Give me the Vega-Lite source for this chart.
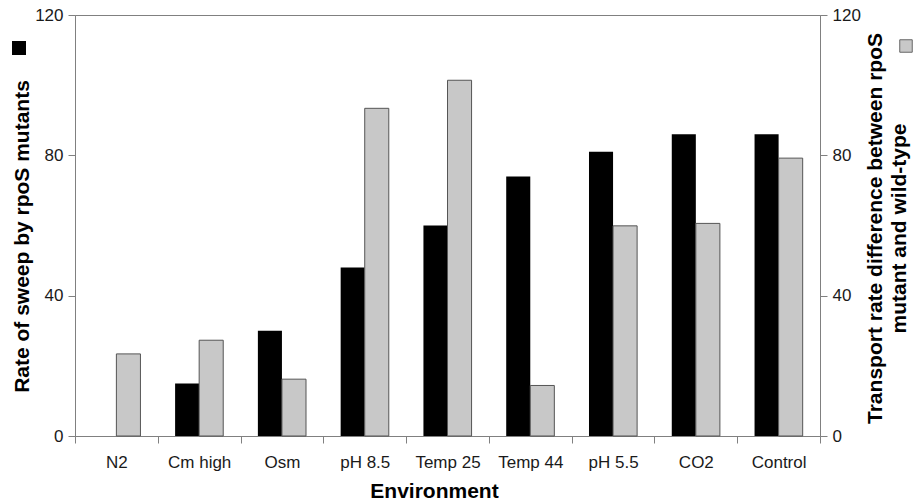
{
  "$schema": "https://vega.github.io/schema/vega-lite/v6.json",
  "width": 745,
  "height": 421,
  "autosize": {"type": "none"},
  "padding": {"left": 75, "top": 15, "right": 93, "bottom": 65},
  "background": "white",
  "config": {
    "view": {"stroke": "#808080", "strokeWidth": 1},
    "font": "Liberation Sans",
    "axis": {
      "labelFont": "Liberation Sans",
      "labelFontSize": 17,
      "labelColor": "#1a1a1a",
      "titleFont": "Liberation Sans",
      "titleFontSize": 21,
      "titleFontWeight": "bold",
      "titleColor": "#000000",
      "domainColor": "#808080",
      "tickColor": "#808080",
      "grid": false,
      "tickSize": 7
    }
  },
  "data": {
    "values": [
      {"env": "N2", "series": "sweep", "value": 0},
      {"env": "Cm high", "series": "sweep", "value": 15},
      {"env": "Osm", "series": "sweep", "value": 30},
      {"env": "pH 8.5", "series": "sweep", "value": 48},
      {"env": "Temp 25", "series": "sweep", "value": 60},
      {"env": "Temp 44", "series": "sweep", "value": 74},
      {"env": "pH 5.5", "series": "sweep", "value": 81},
      {"env": "CO2", "series": "sweep", "value": 86},
      {"env": "Control", "series": "sweep", "value": 86},
      {"env": "N2", "series": "transport", "value": 23.4},
      {"env": "Cm high", "series": "transport", "value": 27.3},
      {"env": "Osm", "series": "transport", "value": 16.2},
      {"env": "pH 8.5", "series": "transport", "value": 93.4},
      {"env": "Temp 25", "series": "transport", "value": 101.4},
      {"env": "Temp 44", "series": "transport", "value": 14.4},
      {"env": "pH 5.5", "series": "transport", "value": 59.9},
      {"env": "CO2", "series": "transport", "value": 60.6},
      {"env": "Control", "series": "transport", "value": 79.2}
    ]
  },
  "encoding": {
    "x": {
      "field": "env",
      "type": "nominal",
      "sort": ["N2", "Cm high", "Osm", "pH 8.5", "Temp 25", "Temp 44", "pH 5.5", "CO2", "Control"],
      "scale": {"paddingInner": 0, "paddingOuter": 0},
      "axis": {
        "title": "Environment",
        "labelAngle": 0,
        "tickBand": "extent",
        "labelPadding": 24,
        "labelBaseline": "alphabetic",
        "titleX": 359,
        "titleY": 61,
        "titleBaseline": "alphabetic",
        "titleAlign": "center"
      }
    },
    "xOffset": {
      "field": "series",
      "type": "nominal",
      "scale": {"domain": ["sweep", "transport"], "paddingInner": 0, "paddingOuter": 0.72}
    }
  },
  "layer": [
    {
      "transform": [{"filter": "datum.series === 'sweep'"}],
      "mark": {"type": "bar"},
      "encoding": {
        "y": {
          "field": "value",
          "type": "quantitative",
          "scale": {"domain": [0, 120], "nice": false},
          "axis": {
            "orient": "left",
            "values": [0, 40, 80, 120],
            "title": "Rate of sweep by rpoS mutants",
            "titleAngle": -90,
            "titleX": -47,
            "titleY": 221,
            "titleBaseline": "alphabetic",
            "titleAlign": "center",
            "labelPadding": 5
          }
        },
        "fill": {
          "field": "series",
          "type": "nominal",
          "scale": {"domain": ["sweep"], "range": ["#000000"]},
          "legend": {
            "orient": "none",
            "legendX": -63,
            "legendY": 26,
            "title": null,
            "labelExpr": "''",
            "symbolType": "square",
            "symbolSize": 196,
            "padding": 0,
            "labelOffset": 0,
            "symbolStrokeWidth": 0,
            "symbolOpacity": 1
          }
        }
      }
    },
    {
      "transform": [{"filter": "datum.series === 'transport'"}],
      "mark": {"type": "bar", "stroke": "#555555", "strokeWidth": 1},
      "encoding": {
        "y": {
          "field": "value",
          "type": "quantitative",
          "scale": {"domain": [0, 120], "nice": false},
          "axis": {
            "orient": "right",
            "values": [0, 40, 80, 120],
            "title": ["Transport rate difference between rpoS", "mutant and wild-type"],
            "titleAngle": -90,
            "titleX": 61,
            "titleY": 213,
            "titleBaseline": "alphabetic",
            "titleAlign": "center",
            "titleLineHeight": 24,
            "labelPadding": 5
          }
        },
        "fill": {
          "field": "series",
          "type": "nominal",
          "scale": {"domain": ["transport"], "range": ["#c8c8c8"]},
          "legend": {
            "orient": "none",
            "legendX": 824,
            "legendY": 24,
            "title": null,
            "labelExpr": "''",
            "symbolType": "square",
            "symbolSize": 156,
            "padding": 0,
            "labelOffset": 0,
            "symbolStrokeColor": "#666666",
            "symbolStrokeWidth": 1,
            "symbolOpacity": 1
          }
        }
      }
    }
  ],
  "resolve": {
    "scale": {"y": "independent", "fill": "independent"},
    "legend": {"fill": "independent"}
  }
}
